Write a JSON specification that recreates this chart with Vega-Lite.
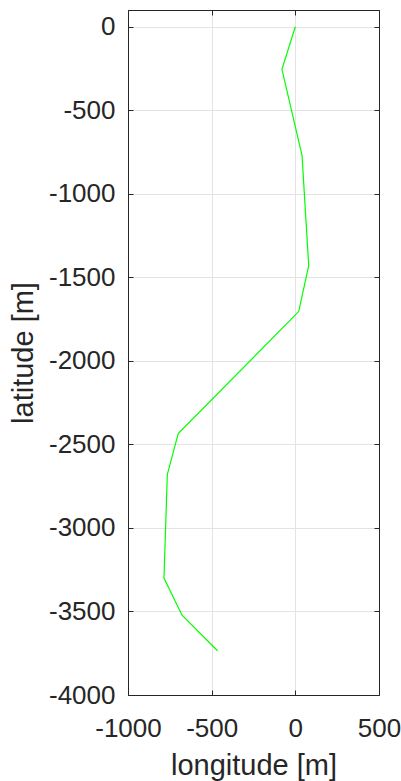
{
  "$schema": "https://vega.github.io/schema/vega-lite/v6.json",
  "autosize": "none",
  "width": 251,
  "height": 685,
  "padding": {"left": 128, "top": 10, "right": 22, "bottom": 86},
  "background": "white",
  "config": {
    "view": {"stroke": "#262626", "strokeWidth": 1},
    "font": "Liberation Sans",
    "axis": {
      "domainColor": "#262626",
      "tickColor": "#262626",
      "labelColor": "#262626",
      "titleColor": "#262626",
      "labelFont": "Liberation Sans",
      "titleFont": "Liberation Sans",
      "labelFontSize": 26,
      "titleFontSize": 29,
      "titleFontWeight": "normal",
      "gridColor": "#e3e3e3",
      "gridWidth": 1,
      "tickSize": -5,
      "labelFlush": false,
      "labelOverlap": false
    }
  },
  "data": {
    "values": [
      {"i": 0, "lon": 0, "lat": 0},
      {"i": 1, "lon": -80, "lat": -255},
      {"i": 2, "lon": 40, "lat": -770},
      {"i": 3, "lon": 80, "lat": -1430},
      {"i": 4, "lon": 20, "lat": -1705},
      {"i": 5, "lon": -700, "lat": -2435},
      {"i": 6, "lon": -765, "lat": -2680},
      {"i": 7, "lon": -785, "lat": -3300},
      {"i": 8, "lon": -677, "lat": -3522},
      {"i": 9, "lon": -465, "lat": -3735}
    ]
  },
  "layer": [
    {
      "mark": {"type": "line", "color": "#00ff00", "strokeWidth": 1.2},
      "encoding": {
        "order": {"field": "i", "type": "quantitative"},
        "x": {
          "field": "lon", "type": "quantitative",
          "scale": {"domain": [-1000, 500], "nice": false, "zero": false},
          "axis": {"orient": "bottom", "title": "longitude [m]", "grid": true, "values": [-1000, -500, 0, 500], "labelExpr": "'' + datum.value", "labelPadding": 25, "titlePadding": 10}
        },
        "y": {
          "field": "lat", "type": "quantitative",
          "scale": {"domain": [-4000, 100], "nice": false, "zero": false},
          "axis": {"orient": "left", "title": "latitude [m]", "grid": true, "values": [-4000, -3500, -3000, -2500, -2000, -1500, -1000, -500, 0], "labelExpr": "'' + datum.value", "labelPadding": 18, "titlePadding": 10}
        }
      }
    },
    {
      "mark": {"type": "line", "color": "#00ff00", "strokeWidth": 1.2, "strokeOpacity": 0},
      "encoding": {
        "order": {"field": "i", "type": "quantitative"},
        "x": {
          "field": "lon", "type": "quantitative",
          "scale": {"domain": [-1000, 500], "nice": false, "zero": false},
          "axis": {"orient": "top", "labels": false, "title": null, "grid": false, "values": [-1000, -500, 0, 500]}
        },
        "y": {
          "field": "lat", "type": "quantitative",
          "scale": {"domain": [-4000, 100], "nice": false, "zero": false},
          "axis": {"orient": "right", "labels": false, "title": null, "grid": false, "values": [-4000, -3500, -3000, -2500, -2000, -1500, -1000, -500, 0]}
        }
      }
    }
  ],
  "resolve": {"axis": {"x": "independent", "y": "independent"}}
}
